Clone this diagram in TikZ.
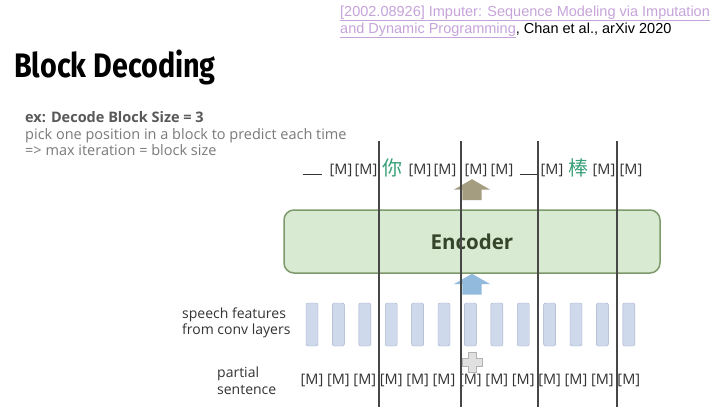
\documentclass[tikz,border=0pt]{standalone}
\usepackage{fontspec}
\setmainfont{Open Sans}
\newfontfamily\titlefont{Fira Sans}
\newfontfamily\reffont{Liberation Sans}
\newfontfamily\cjk{Noto Sans CJK SC}
\usetikzlibrary{positioning,shapes.arrows}

\definecolor{textgray}{HTML}{7A7A7A}
\definecolor{headgray}{HTML}{595959}
\definecolor{tokengray}{HTML}{333333}
\definecolor{linkpurple}{HTML}{C6A4DA}
\definecolor{encfill}{HTML}{D9EAD3}
\definecolor{encdraw}{HTML}{7D9A6C}
\definecolor{enctext}{HTML}{34452A}
\definecolor{featfill}{HTML}{CFD9EC}
\definecolor{featdraw}{HTML}{A3B0C9}
\definecolor{wordgreen}{HTML}{3AA07A}
\definecolor{outbrown}{HTML}{A59D80}
\definecolor{inblue}{HTML}{92BADD}
\definecolor{sepgray}{HTML}{474747}

\newcommand{\blank}{\vphantom{[M]}\rule[-1pt]{19pt}{0.7pt}}

\begin{document}
\begin{tikzpicture}[
x=1pt, y=-1pt,
token/.style={inner sep=0pt, font=\fontsize{14.5}{16}\selectfont, text=tokengray},
word/.style={inner sep=0pt, font=\cjk\fontsize{20}{22}\selectfont, text=wordgreen},
feat/.style={draw=featdraw, fill=featfill, rounded corners=2pt, minimum width=12pt, minimum height=43pt, inner sep=0pt},
blockarrow/.style={single arrow, rotate=90, inner xsep=0pt, inner ysep=9.5pt, minimum height=21pt, single arrow head extend=8.5pt, single arrow tip angle=120},
sidetext/.style={align=left, inner sep=0pt, anchor=west, font=\fontsize{14}{16.5}\selectfont, text=tokengray},
note/.style={anchor=base west, inner sep=0pt, font=\fontsize{14.5}{17}\selectfont, text=textgray},
sepline/.style={sepgray, line width=1.4pt}
]
\fill[white] (0,0) rectangle (720,407);
\useasboundingbox (0,0) rectangle (720,407);

% heading and reference
\node[anchor=base west, inner sep=0pt, font=\titlefont\bfseries\fontsize{34}{40}\selectfont] (title) at (14,77) {\scalebox{0.845}[1]{Block Decoding}};
\node[anchor=base west, inner sep=0pt, font=\reffont\fontsize{14.5}{17}\selectfont, text=linkpurple] (ref1) at (340,16) {\underline{[2002.08926] Imputer: Sequence Modeling via Imputation}};
\node[anchor=base west, inner sep=0pt, font=\reffont\fontsize{14.5}{17}\selectfont] (ref2) at (340,33) {\textcolor{linkpurple}{\underline{and Dynamic Programming}}, Chan et al., arXiv 2020};

% example notes
\node[note, font=\bfseries\fontsize{14.5}{17}\selectfont, text=headgray] (ex) at (25,122) {ex: Decode Block Size = 3};
\node[note] (pick) at (25,139) {pick one position in a block to predict each time};
\node[note] (iter) at (25,155) {=> max iteration = block size};

% output sequence
\foreach \x/\t [count=\i] in {312/\blank, 341/[M], 366/[M], 420/[M], 445/[M], 476/[M], 502/[M], 529/\blank, 552/[M], 604/[M], 631/[M]}
  \node[token] (out\i) at (\x,170) {\t};
\node[word] (ni) at (392,168) {你};
\node[word] (bang) at (578,168) {棒};

% encoder
\node[draw=encdraw, fill=encfill, line width=1.5pt, rounded corners=10pt, minimum width=376pt, minimum height=63pt, font=\bfseries\fontsize{20.5}{22}\selectfont, text=enctext] (enc) at (472,241.5) {Encoder};
\node[blockarrow, fill=outbrown] (up) at (472,192.5) {};
\node[blockarrow, fill=inblue] (in) at (472,287) {};

% speech features and partial sentence
\foreach \i in {1,...,13} {
  \node[feat] (f\i) at ({312+26.4*(\i-1)},324.5) {};
  \node[token] (m\i) at ({312+26.4*(\i-1)},380) {[M]};
}
\node[sidetext] (speech) at (182,323) {speech features\\from conv layers};
\node[sidetext] (partial) at (217,380.5) {partial\\sentence};

% plus
\filldraw[draw=black!30, fill=black!12, line width=0.8pt]
  (468,352) -- (476,352) -- (476,358) -- (482,358) -- (482,366) -- (476,366)
  -- (476,372) -- (468,372) -- (468,366) -- (462,366) -- (462,358) -- (468,358) -- cycle;

% block boundaries
\foreach \x in {379,461,538,617}
  \draw[sepline] (\x,141) -- (\x,407);
\end{tikzpicture}
\end{document}
